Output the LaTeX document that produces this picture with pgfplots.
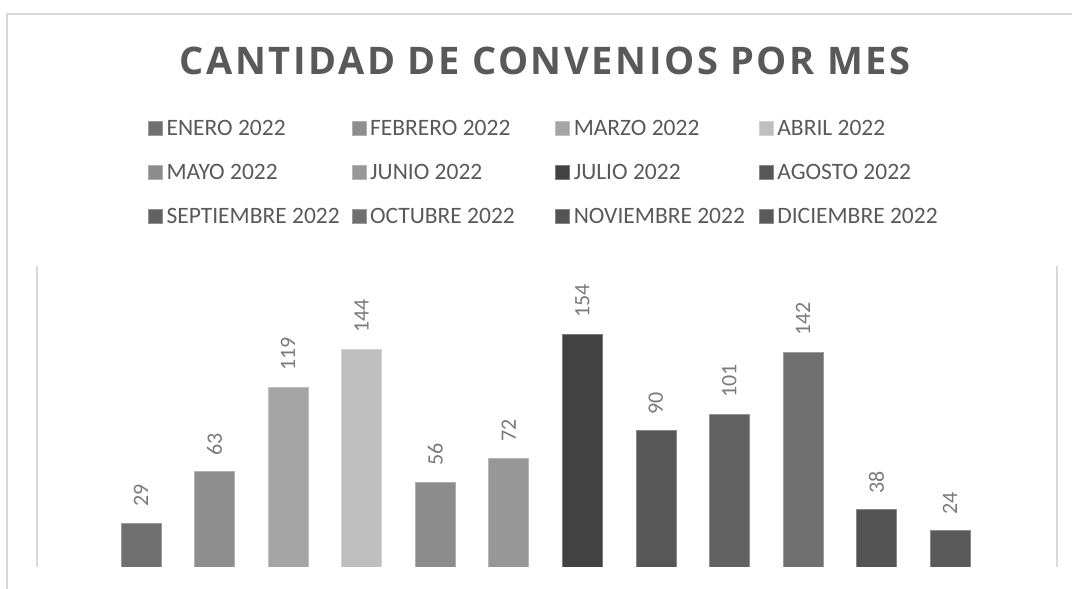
\documentclass[border=0pt]{standalone}
\usepackage{fontspec}
\setmainfont{Carlito}
\newfontfamily\titlefont[LetterSpace=6.8]{Open Sans}
\usepackage{pgfplots}
\pgfplotsset{compat=1.18}
\definecolor{txt}{HTML}{595959}
\definecolor{lbl}{HTML}{7A7A7A}
\definecolor{frame}{HTML}{D9D9D9}
\definecolor{c1}{HTML}{707070}
\definecolor{c2}{HTML}{8E8E8E}
\definecolor{c3}{HTML}{A5A5A5}
\definecolor{c4}{HTML}{BFBFBF}
\definecolor{c5}{HTML}{8C8C8C}
\definecolor{c6}{HTML}{979797}
\definecolor{c7}{HTML}{424242}
\definecolor{c8}{HTML}{575757}
\definecolor{c9}{HTML}{626262}
\definecolor{c10}{HTML}{707070}
\definecolor{c11}{HTML}{545454}
\definecolor{c12}{HTML}{5A5A5A}
\newcommand{\lt}[1]{\makebox[185pt][l]{#1}}
\begin{document}
\begin{tikzpicture}[x=1pt,y=1pt]
\path[use as bounding box] (0pt,0pt) rectangle (1072pt,589pt);
\draw[frame, line width=2pt] (7pt,-2pt) -- (7pt,575pt) -- (1074pt,575pt);
\node[font=\titlefont\bfseries\fontsize{38}{40}\selectfont, text=txt] at (545pt,528pt) {CANTIDAD DE CONVENIOS POR MES};
\begin{axis}[
  at={(37pt,22pt)}, anchor=south west,
  scale only axis, width=1020pt, height=301pt,
  xmin=-1.414, xmax=12.455, ymin=0, ymax=198.9,
  axis lines=box, separate axis lines,
  x axis line style={draw=none},
  y axis line style={draw=frame, line width=1.5pt},
  xtick=\empty, ytick=\empty,
  ybar, bar width=40pt, bar shift=0pt,
  nodes near coords,
  /pgf/number format/assume math mode=true,
  every node near coord/.append style={font=\fontsize{22}{24}\selectfont, text=lbl, rotate=90, anchor=west, inner xsep=16pt, inner ysep=0pt, /pgf/number format/assume math mode=true},
  legend columns=4,
  legend image code/.code={\fill[#1] (0pt,-7pt) rectangle (14pt,7pt);},
  legend style={draw=none, fill=none, inner sep=0pt, outer sep=0pt,
    at={(axis description cs:0.1088,1.53)}, anchor=north west,
    font=\fontsize{23.5}{25}\selectfont, text=txt,
    cells={anchor=west},
    nodes={inner sep=0pt, minimum height=44pt},
    row sep=0pt,
    /tikz/every odd column/.append style={column sep=4pt},
    /tikz/every even column/.append style={column sep=0pt}},
]
\addplot[fill=c1, draw=c1!70!white, line width=0.6pt] coordinates {(0,29)};
\addlegendentry{\lt{ENERO 2022}}
\addplot[fill=c2, draw=c2!70!white, line width=0.6pt] coordinates {(1,63)};
\addlegendentry{\lt{FEBRERO 2022}}
\addplot[fill=c3, draw=c3!70!white, line width=0.6pt] coordinates {(2,119)};
\addlegendentry{\lt{MARZO 2022}}
\addplot[fill=c4, draw=c4!70!white, line width=0.6pt] coordinates {(3,144)};
\addlegendentry{\lt{ABRIL 2022}}
\addplot[fill=c5, draw=c5!70!white, line width=0.6pt] coordinates {(4,56)};
\addlegendentry{\lt{MAYO 2022}}
\addplot[fill=c6, draw=c6!70!white, line width=0.6pt] coordinates {(5,72)};
\addlegendentry{\lt{JUNIO 2022}}
\addplot[fill=c7, draw=c7!70!white, line width=0.6pt] coordinates {(6,154)};
\addlegendentry{\lt{JULIO 2022}}
\addplot[fill=c8, draw=c8!70!white, line width=0.6pt] coordinates {(7,90)};
\addlegendentry{\lt{AGOSTO 2022}}
\addplot[fill=c9, draw=c9!70!white, line width=0.6pt] coordinates {(8,101)};
\addlegendentry{\lt{SEPTIEMBRE 2022}}
\addplot[fill=c10, draw=c10!70!white, line width=0.6pt] coordinates {(9,142)};
\addlegendentry{\lt{OCTUBRE 2022}}
\addplot[fill=c11, draw=c11!70!white, line width=0.6pt] coordinates {(10,38)};
\addlegendentry{\lt{NOVIEMBRE 2022}}
\addplot[fill=c12, draw=c12!70!white, line width=0.6pt] coordinates {(11,24)};
\addlegendentry{\lt{DICIEMBRE 2022}}
\end{axis}
\end{tikzpicture}
\end{document}
